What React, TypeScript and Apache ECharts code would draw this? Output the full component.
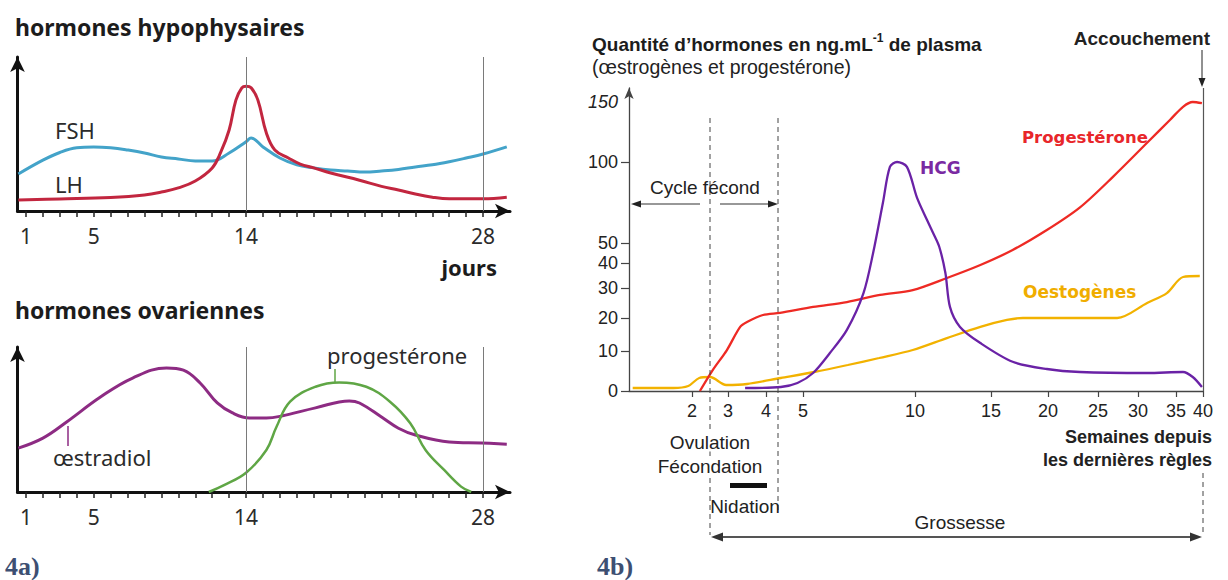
import React, { useEffect, useRef } from 'react';
import * as echarts from 'echarts';

// ---------- 4a : cycle menstruel (jours) ----------
const cycleTickDays = [1, 2, 3, 4, 5, 6, 7, 8, 9, 10, 11, 12, 13, 14, 15, 16, 17, 18, 19, 20, 21, 22, 23, 24, 25, 26, 27, 28];
const cycleLabelDays = [1, 5, 14, 28];
const cycleMarkerDays = [14, 28];

const fshDays = [0.55, 2, 3, 4, 5, 6, 7, 8, 9, 10, 11, 12, 13, 14, 14.3, 15, 16, 17, 18, 19, 20, 21, 22, 23, 24, 25, 26, 27, 28, 29.4];
const fshLevels = [24, 33, 38, 41, 41.5, 41, 39.6, 37.7, 35, 33.8, 32.5, 32.5, 37.7, 45, 47.4, 41.6, 34.4, 30, 28, 26.6, 26, 25.3, 26, 27, 28.6, 30, 32, 34.4, 37, 41.6];

const lhDays = [0.55, 3, 6, 8, 9, 10, 11, 12, 12.5, 13, 13.4, 13.75, 14, 14.3, 14.7, 15.2, 15.7, 16.5, 17.2, 18, 19, 20.7, 22, 23, 24, 25, 26, 28, 29.4];
const lhLevels = [7.1, 7.8, 8.8, 10.4, 12.3, 15, 19.5, 28, 38, 52.6, 72, 80, 81, 80, 72, 50.6, 39.6, 34.4, 30.5, 28, 24.7, 20, 16, 13.6, 11, 9, 8, 8, 9];

const oestradiolDays = [0.55, 2, 3.4, 5.4, 7.3, 9.3, 10.3, 11.3, 12.3, 13.2, 14.2, 15.2, 16.1, 18.1, 20.1, 20.7, 22, 23, 24, 26, 27.9, 29.4];
const oestradiolLevels = [30.3, 37.2, 48.3, 65.5, 78.6, 85.5, 84, 75, 61.4, 54.5, 51, 51, 52.4, 58, 62.8, 61.4, 51.7, 44, 39.3, 34.5, 33.8, 33];

const progCycleDays = [11.8, 12.7, 14, 15.2, 15.8, 16.6, 18.1, 19.5, 21.1, 22.5, 23.7, 24.6, 25.7, 26.7, 27.3];
const progCycleLevels = [0, 4.8, 13.3, 29, 45, 62.3, 72.6, 75.6, 72.6, 62.3, 47.4, 29, 15.2, 3.7, 0];

// ---------- 4b : grossesse (semaines) ----------
const weekTicks = [2, 3, 4, 5, 10, 15, 20, 25, 30, 35, 40];
const amountTicks = [0, 10, 20, 30, 40, 50, 100];
const amountLabels = [0, 10, 20, 30, 40, 50, 100, 150];

const oestroWeeks = [0.4, 1.5, 1.9, 2.2, 2.5, 2.95, 3.5, 4.4, 5.5, 7, 8.4, 9.9, 12.1, 14.3, 16.4, 17.8, 23.2, 27.4, 31.2, 33.8, 36.3, 39.4];
const oestroAmounts = [0.75, 0.75, 1.25, 3.25, 3.5, 1.5, 1.75, 3.25, 4.75, 6.5, 8.25, 10.3, 13.9, 17.3, 19.4, 20, 20, 20, 25, 28.3, 34.4, 34.8];

const progWeeks = [2.22, 2.58, 2.97, 3.32, 3.5, 3.92, 4.38, 5.45, 6.96, 8.44, 9.9, 12.1, 14.3, 16.9, 19.9, 23.2, 26.9, 31.2, 34.2, 36.3, 38.1, 39.8];
const progAmounts = [0, 5.3, 10.3, 17.3, 18.8, 21, 21.7, 23.7, 25.3, 27.7, 29.3, 34, 39.2, 46.5, 58, 72, 91, 116, 135, 146, 150, 149];

const hcgWeeks = [3.45, 4.4, 4.85, 5.45, 6.2, 6.96, 7.7, 8.13, 8.57, 8.88, 9.2, 9.64, 10.13, 10.8, 11.2, 11.6, 12.0, 12.3, 12.96, 14.3, 16.9, 19.9, 23.2, 31.2, 36.3, 38.1, 39.8];
const hcgAmounts = [0.75, 1, 2, 4.5, 9.5, 16.4, 28.3, 45, 75, 97, 100, 97, 78, 64, 56, 48, 36, 23.7, 17.3, 12.4, 7.3, 5.5, 4.75, 4.5, 4.75, 3.5, 1];

// hand-drawn (non linear) graduations of figure 4b: [value, axis unit]
const WEEK_SCALE = [[0.3, 0], [2, 63], [3, 99], [4, 137], [5, 174], [10, 286], [15, 362], [20, 419], [25, 469], [30, 509], [35, 547], [40, 574]];
const AMOUNT_SCALE = [[0, 0], [10, 40], [20, 73], [30, 103], [40, 128], [50, 148], [100, 229], [150, 289]];

function interp(v: number, pairs: number[][]): number {
  if (v <= pairs[0][0]) {
    const [a, b] = [pairs[0], pairs[1]];
    return a[1] + ((v - a[0]) * (b[1] - a[1])) / (b[0] - a[0]);
  }
  for (let i = 1; i < pairs.length; i++) {
    if (v <= pairs[i][0]) {
      const a = pairs[i - 1];
      const b = pairs[i];
      return a[1] + ((v - a[0]) * (b[1] - a[1])) / (b[0] - a[0]);
    }
  }
  const a = pairs[pairs.length - 2];
  const b = pairs[pairs.length - 1];
  return a[1] + ((v - a[0]) * (b[1] - a[1])) / (b[0] - a[0]);
}
const wk = (w: number) => interp(w, WEEK_SCALE);
const amt = (a: number) => interp(a, AMOUNT_SCALE);

const CYCLE_FONT = '"Noto Sans", "Open Sans", sans-serif';
const PREG_FONT = '"Liberation Sans Narrow", "Liberation Sans", Arial, sans-serif';
const FUN_FONT = '"DejaVu Sans", sans-serif';
const SERIF = '"Liberation Serif", "DejaVu Serif", serif';

const txt = (text: string, x: number, y: number, o: any = {}) => ({
  type: 'text',
  x,
  y,
  z: 10,
  style: {
    text,
    fill: o.fill || '#222',
    fontSize: o.size || 17,
    fontWeight: o.weight || 'normal',
    fontFamily: o.family || PREG_FONT,
    align: o.align || 'left',
    verticalAlign: 'middle',
    backgroundColor: o.bg,
    rich: o.rich,
  },
});
const seg = (x1: number, y1: number, x2: number, y2: number, o: any = {}) => ({
  type: 'line',
  z: 5,
  shape: { x1, y1, x2, y2 },
  style: { stroke: o.stroke || '#333', lineWidth: o.width || 1, lineDash: o.dash },
});
const tri = (pts: number[][], fill = '#222') => ({ type: 'polygon', z: 6, shape: { points: pts }, style: { fill } });

export default function App() {
  const ref = useRef<HTMLDivElement>(null);
  useEffect(() => {
    if (!ref.current) return;
    const chart = echarts.init(ref.current, null, { renderer: 'svg' });

    const cycleX = (grid: number) => ({
      gridIndex: grid,
      type: 'value',
      min: 0.5,
      max: 29.59,
      axisLine: { show: true, symbol: ['none', 'arrow'], symbolSize: [11, 15], lineStyle: { color: '#111', width: 3 } },
      axisTick: { show: true, customValues: cycleTickDays, length: 6, lineStyle: { color: '#222', width: 1.5 } },
      axisLabel: { show: true, customValues: cycleLabelDays, fontSize: 21, color: '#2b2b2b', margin: 14, fontFamily: CYCLE_FONT },
      splitLine: { show: false },
    });
    const cycleY = (grid: number) => ({
      gridIndex: grid,
      type: 'value',
      min: 0,
      max: 100,
      axisLine: { show: true, symbol: ['none', 'arrow'], symbolSize: [11, 15], lineStyle: { color: '#111', width: 3 } },
      axisTick: { show: false },
      axisLabel: { show: false },
      splitLine: { show: false },
    });
    const markers = (color: string) => ({
      silent: true,
      symbol: ['none', 'none'],
      label: { show: false },
      lineStyle: { color, width: 1, type: 'solid' },
      data: cycleMarkerDays.map((d) => ({ xAxis: d })),
    });
    const line = (xi: number, data: number[][], color: string, width: number, extra: any = {}) => ({
      type: 'line',
      xAxisIndex: xi,
      yAxisIndex: xi,
      data,
      smooth: 0.4,
      showSymbol: false,
      clip: false,
      lineStyle: { color, width },
      itemStyle: { color },
      ...extra,
    });

    const option: any = {
      animation: false,
      backgroundColor: '#ffffff',
      grid: [
        { left: 17.5, top: 57, width: 492.5, height: 154 },
        { left: 17.5, top: 347, width: 492.5, height: 145 },
        { left: 629, top: 88, width: 574, height: 303 },
      ],
      xAxis: [
        cycleX(0),
        cycleX(1),
        {
          gridIndex: 2,
          type: 'value',
          min: 0,
          max: 574,
          axisLine: { show: true, lineStyle: { color: '#444', width: 1.3 } },
          axisTick: { show: true, customValues: weekTicks.map(wk), length: 6, lineStyle: { color: '#444', width: 1.2 } },
          axisLabel: {
            show: true,
            customValues: weekTicks.map(wk),
            fontSize: 18,
            color: '#222',
            margin: 11,
            fontFamily: PREG_FONT,
            formatter: (val: number) => {
              const i = weekTicks.findIndex((w) => Math.abs(wk(w) - val) < 1e-6);
              return i >= 0 ? String(weekTicks[i]) : '';
            },
          },
          splitLine: { show: false },
        },
      ],
      yAxis: [
        cycleY(0),
        cycleY(1),
        {
          gridIndex: 2,
          type: 'value',
          min: 0,
          max: 303,
          axisLine: { show: true, symbol: ['none', 'arrow'], symbolSize: [7, 11], lineStyle: { color: '#444', width: 1.3 } },
          axisTick: { show: true, customValues: amountTicks.map(amt), length: 8, lineStyle: { color: '#444', width: 1.2 } },
          axisLabel: {
            show: true,
            customValues: amountLabels.map(amt),
            fontSize: 18,
            color: '#222',
            margin: 11,
            fontFamily: PREG_FONT,
            formatter: (val: number) => {
              const i = amountLabels.findIndex((a) => Math.abs(amt(a) - val) < 1e-6);
              if (i < 0) return '';
              const a = amountLabels[i];
              return a === 150 ? '{i|150}' : String(a);
            },
            rich: { i: { fontStyle: 'italic', fontSize: 18, color: '#222', fontFamily: PREG_FONT } },
          },
          splitLine: { show: false },
        },
      ],
      series: [
        line(0, fshDays.map((d, i) => [d, fshLevels[i]]), '#43a3c9', 3, { name: 'FSH', markLine: markers('#7a7a7a') }),
        line(0, lhDays.map((d, i) => [d, lhLevels[i]]), '#c2263f', 3, { name: 'LH' }),
        line(1, oestradiolDays.map((d, i) => [d, oestradiolLevels[i]]), '#8d2b83', 3, { name: 'œstradiol', markLine: markers('#7a7a7a') }),
        line(1, progCycleDays.map((d, i) => [d, progCycleLevels[i]]), '#5fa645', 2.5, { name: 'progestérone' }),
        line(2, oestroWeeks.map((w, i) => [wk(w), amt(oestroAmounts[i])]), '#f2b200', 2.3, {
          name: 'Oestogènes',
          smooth: 0.3,
        }),
        line(2, progWeeks.map((w, i) => [wk(w), amt(progAmounts[i])]), '#ee2a24', 2.3, {
          name: 'Progestérone',
          smooth: 0.3,
          markLine: {
            silent: true,
            symbol: ['none', 'none'],
            label: { show: false },
            lineStyle: { color: '#555', width: 1.2, type: 'solid' },
            data: [{ xAxis: wk(40) }],
          },
        }),
        line(2, hcgWeeks.map((w, i) => [wk(w), amt(hcgAmounts[i])]), '#6a22a6', 2.3, { name: 'HCG', smooth: 0.3 }),
      ],
      graphic: {
        elements: [
          // 4a
          txt('hormones hypophysaires', 15, 27, { size: 23, weight: 'bold', family: CYCLE_FONT, fill: '#1c1c1c' }),
          txt('jours', 497, 267, { size: 22, weight: 'bold', family: CYCLE_FONT, fill: '#1c1c1c', align: 'right' }),
          txt('FSH', 55, 130, { size: 22, family: CYCLE_FONT, fill: '#2b2b2b' }),
          txt('LH', 55, 184, { size: 22, family: CYCLE_FONT, fill: '#2b2b2b' }),
          txt('hormones ovariennes', 15, 310, { size: 23, weight: 'bold', family: CYCLE_FONT, fill: '#1c1c1c' }),
          txt('œstradiol', 53, 457, { size: 22, family: CYCLE_FONT, fill: '#2b2b2b' }),
          seg(68, 426, 68, 446, { stroke: '#8d2b83', width: 1.5 }),
          txt('progestérone', 327, 355, { size: 22, family: CYCLE_FONT, fill: '#2b2b2b' }),
          seg(335, 369, 335, 383, { stroke: '#5fa645', width: 1.5 }),
          txt('4a)', 5, 566, { size: 26, weight: 'bold', family: SERIF, fill: '#3d4f72' }),
          // 4b
          txt('4b)', 597, 566, { size: 26, weight: 'bold', family: SERIF, fill: '#3d4f72' }),
          txt('{b|Quantité d’hormones en ng.mL}{s|-1}{b| de plasma}', 592, 43, {
            rich: {
              b: { fontSize: 19, fontWeight: 'bold', fontFamily: PREG_FONT, fill: '#1c1c1c', lineHeight: 22, verticalAlign: 'bottom' },
              s: { fontSize: 12, fontWeight: 'bold', fontFamily: PREG_FONT, fill: '#1c1c1c', lineHeight: 12, verticalAlign: 'top' },
            },
          }),
          txt('(œstrogènes et progestérone)', 592, 67, { size: 19.5 }),
          txt('Accouchement', 1210, 38, { size: 19, weight: 'bold', align: 'right' }),
          seg(1202, 50, 1202, 80, { stroke: '#222', width: 1 }),
          tri([[1202, 87], [1198.5, 78], [1205.5, 78]]),
          txt('Progestérone', 1022, 137, { size: 16.5, weight: 'bold', family: FUN_FONT, fill: '#e8262a' }),
          txt('HCG', 920, 168, { size: 17, weight: 'bold', family: FUN_FONT, fill: '#7a2aa2' }),
          txt('Oestogènes', 1023, 292, { size: 17, weight: 'bold', family: FUN_FONT, fill: '#f0ad00' }),
          // dashed markers
          seg(710, 118, 710, 535, { stroke: '#444', width: 1, dash: [5, 4] }),
          seg(778, 118, 778, 512, { stroke: '#444', width: 1, dash: [5, 4] }),
          seg(1203, 473, 1203, 535, { stroke: '#444', width: 1, dash: [5, 4] }),
          // cycle fécond
          txt('Cycle fécond', 705, 187, { size: 19, align: 'center' }),
          seg(636, 204, 700, 204, { stroke: '#333', width: 1.2 }),
          seg(720, 204, 772, 204, { stroke: '#333', width: 1.2 }),
          tri([[631, 204], [641, 200.5], [641, 207.5]]),
          tri([[778, 204], [768, 200.5], [768, 207.5]]),
          // labels below axis
          txt('Ovulation', 710, 442, { size: 19, align: 'center', bg: '#ffffff' }),
          txt('Fécondation', 710, 466, { size: 19, align: 'center', bg: '#ffffff' }),
          { type: 'rect', z: 6, shape: { x: 730, y: 483, width: 37, height: 5 }, style: { fill: '#111' } },
          txt('Nidation', 745, 506, { size: 19, align: 'center' }),
          txt('Grossesse', 960, 522, { size: 19, align: 'center' }),
          seg(718, 537, 1196, 537, { stroke: '#555', width: 2.2 }),
          tri([[711, 537], [723, 532.5], [723, 541.5]], '#333'),
          tri([[1202, 537], [1190, 532.5], [1190, 541.5]], '#333'),
          txt('Semaines depuis', 1212, 437, { size: 18, weight: 'bold', align: 'right' }),
          txt('les dernières règles', 1212, 460, { size: 18, weight: 'bold', align: 'right' }),
        ],
      },
    };
    chart.setOption(option);
    return () => chart.dispose();
  }, []);
  return <div ref={ref} style={{ position: 'absolute', left: 0, top: 0, width: 1228, height: 580, background: '#fff' }} />;
}
